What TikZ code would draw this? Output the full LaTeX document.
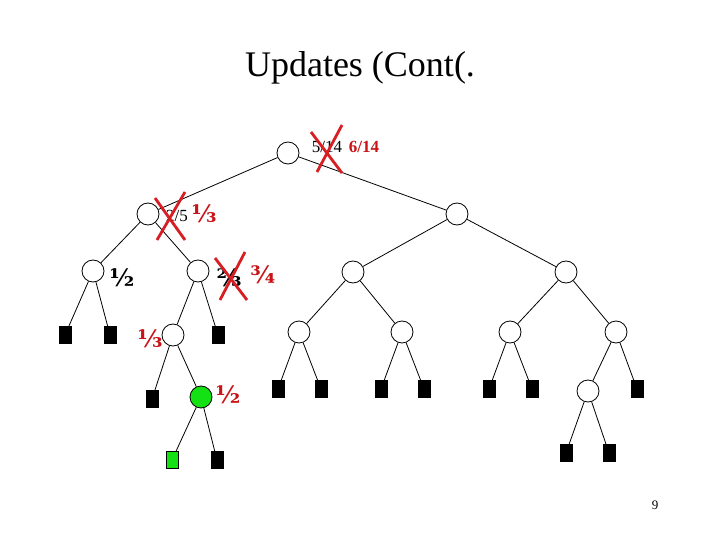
\documentclass[tikz,border=0pt]{standalone}
\usepackage{fontspec}
\setmainfont{Liberation Serif}
\newfontfamily\fracfont{DejaVu Serif}
\definecolor{markred}{RGB}{215,30,35}
\definecolor{textred}{RGB}{200,20,25}
\definecolor{hitgreen}{RGB}{20,225,20}
\begin{document}
\begin{tikzpicture}[x=1pt,y=-1pt,line width=0.8pt,
		chance/.style={circle,draw,minimum size=22pt,inner sep=0pt},
		leaf/.style={rectangle,draw,fill=black,minimum width=12pt,minimum height=17pt,inner sep=0pt},
		hit/.style={fill=hitgreen},
		oldval/.style={font=\fontsize{17}{19}\selectfont},
		newval/.style={text=textred,font=\fontsize{17}{19}\selectfont\bfseries},
		fracval/.style={font=\fracfont\bfseries\fontsize{24}{26}\selectfont},
		cross/.style={draw=markred,line width=2.8pt}]
	\useasboundingbox (0,0) rectangle (720,540);
	\node (title) at (360,68) {\fontsize{36}{40}\selectfont Updates (Cont(.};
	% tree nodes
	\node[chance] (r) at (288,153) {};
	\node[chance] (a) at (148,214) {};
	\node[chance] (b) at (457,214) {};
	\node[chance] (a1) at (93,271) {};
	\node[chance] (a2) at (198,271) {};
	\node[chance] (b1) at (353,272) {};
	\node[chance] (b2) at (566,272) {};
	\node[leaf] (l1) at (65,335) {};
	\node[leaf] (l2) at (110,335) {};
	\node[chance] (c) at (173,335) {};
	\node[leaf] (l3) at (218,335) {};
	\node[chance] (d) at (299,332) {};
	\node[chance] (e) at (402,332) {};
	\node[chance] (f) at (510,332) {};
	\node[chance] (g) at (616,332) {};
	\node[leaf] (l4) at (152,399) {};
	\node[chance,hit] (h) at (201,397) {};
	\node[leaf] (d1) at (278,389) {};
	\node[leaf] (d2) at (321,389) {};
	\node[leaf] (e1) at (381,389) {};
	\node[leaf] (e2) at (424,389) {};
	\node[leaf] (f1) at (489,389) {};
	\node[leaf] (f2) at (532,389) {};
	\node[chance] (k) at (588,391) {};
	\node[leaf] (g2) at (637,389) {};
	\node[leaf,hit] (h1) at (172,460) {};
	\node[leaf] (h2) at (217,460) {};
	\node[leaf] (k1) at (566,453) {};
	\node[leaf] (k2) at (609,453) {};
	% edges
	\foreach \p/\q in {r/a,r/b,a/a1,a/a2,b/b1,b/b2,a1/l1,a1/l2,a2/c,a2/l3,
		b1/d,b1/e,b2/f,b2/g,c/l4,c/h,d/d1,d/d2,e/e1,e/e2,f/f1,f/f2,
		g/k,g/g2,h/h1,h/h2,k/k1,k/k2}
	{
		\draw (\p) -- (\q);
	}
	% values
	\node[oldval] (rold) at (327,147) {5/14};
	\node[newval] (rnew) at (364,147) {6/14};
	\node[oldval] (aold) at (177,216) {2/5};
	\node[fracval,text=textred] (anew) at (204,214) {⅓};
	\node[fracval] (a1val) at (122,278) {½};
	\node[fracval] (a2old) at (229,278) {⅔};
	\node[fracval,text=textred] (a2new) at (263,275) {¾};
	\node[fracval,text=textred] (cval) at (150,339) {⅓};
	\node[fracval,text=textred] (hval) at (228,395) {½};
	\node (page) at (655,505) {\fontsize{13}{15}\selectfont 9};
	% crossed out values
	\draw[cross] (311,132) -- (342,173);
	\draw[cross] (342,125) -- (317,172);
	\draw[cross] (155,198) -- (185,240);
	\draw[cross] (185,192) -- (157,240);
	\draw[cross] (215,258) -- (247,300);
	\draw[cross] (245,252) -- (220,300);
\end{tikzpicture}
\end{document}
